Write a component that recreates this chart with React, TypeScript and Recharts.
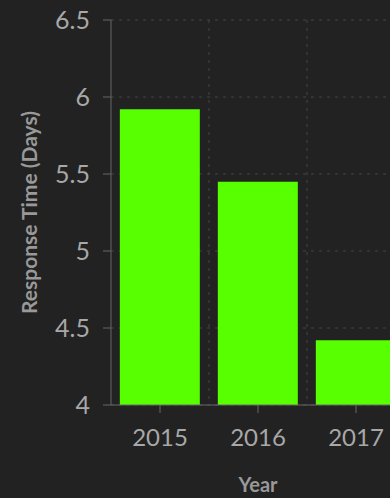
import { Bar, BarChart, CartesianGrid, XAxis, YAxis } from "recharts"

const years = ["2015", "2016", "2017"]
const responseDays = [5.92, 5.45, 4.42]
const yTicks = [4, 4.5, 5, 5.5, 6, 6.5]

const data = years.map((year, i) => ({ year, days: responseDays[i] }))

const font = "Lato, 'Open Sans', sans-serif"

export default function App() {
  return (
    <div
      style={{
        position: "fixed",
        left: 0,
        top: 0,
        width: 390,
        height: 498,
        overflow: "hidden",
        background: "#222222",
      }}
    >
      <BarChart
        width={420}
        height={498}
        data={data}
        margin={{ top: 20, right: 15, left: 0, bottom: 0 }}
        barCategoryGap="9%"
      >
        <CartesianGrid
          stroke="#444444"
          strokeDasharray="3 5"
          verticalCoordinatesGenerator={({ offset }: any) =>
            years.slice(1).map((_, i) => offset.left + ((i + 1) * offset.width) / years.length)
          }
        />
        <XAxis
          dataKey="year"
          height={93}
          stroke="#666666"
          tickSize={8}
          tickMargin={16}
          tick={{ fill: "#a8a8a8", fontSize: 24, fontFamily: font }}
          label={{
            value: "Year",
            position: "insideBottom",
            offset: 6,
            fill: "#999999",
            fontSize: 20,
            fontWeight: 700,
            fontFamily: font,
          }}
        />
        <YAxis
          width={111}
          domain={[4, 6.5]}
          ticks={yTicks}
          stroke="#666666"
          tickSize={8}
          tickMargin={13}
          tick={{ fill: "#a8a8a8", fontSize: 25, fontFamily: font }}
          label={{
            value: "Response Time (Days)",
            angle: -90,
            position: "insideLeft",
            offset: 30,
            fill: "#999999",
            fontSize: 21,
            fontWeight: 700,
            fontFamily: font,
            style: { textAnchor: "middle" },
          }}
        />
        <Bar dataKey="days" fill="#57ff00" isAnimationActive={false} />
      </BarChart>
    </div>
  )
}
